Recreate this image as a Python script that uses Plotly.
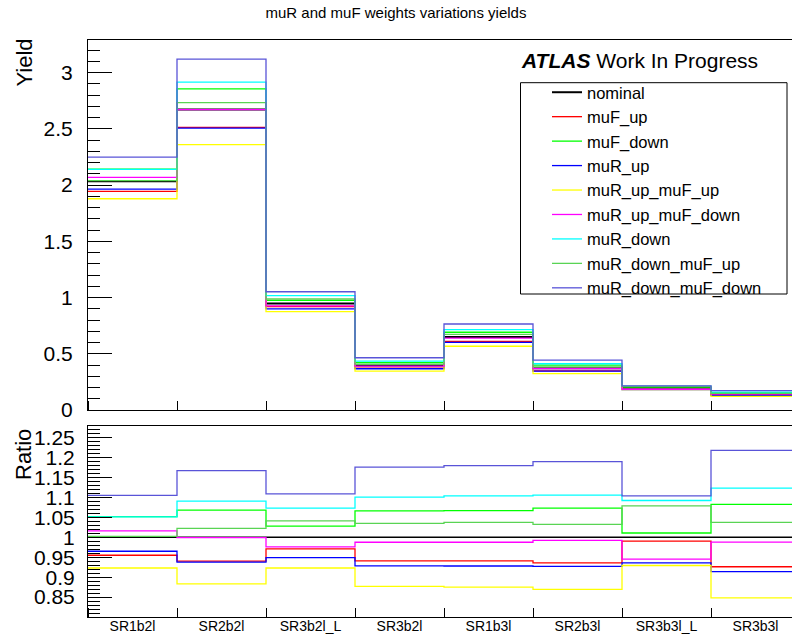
import plotly.graph_objects as go

# ---------------- data ----------------
categories = ["SR1b2l", "SR2b2l", "SR3b2l_L", "SR3b2l", "SR1b3l", "SR2b3l", "SR3b3l_L", "SR3b3l"]

nominal           = [2.035, 2.673, 0.948, 0.395, 0.648, 0.372, 0.195, 0.142]
muF_up            = [1.9434, 2.5126, 0.9205, 0.3717, 0.6098, 0.3482, 0.1931, 0.1315]
muF_down          = [2.1408, 2.8548, 0.9745, 0.4211, 0.6914, 0.3992, 0.1971, 0.1537]
muR_up            = [1.9638, 2.5059, 0.8997, 0.3666, 0.6013, 0.3448, 0.1825, 0.1298]
muR_up_muF_up     = [1.8783, 2.3603, 0.8750, 0.3464, 0.5670, 0.3233, 0.1812, 0.1204]
muR_up_muF_down   = [2.0676, 2.6703, 0.9252, 0.3901, 0.6399, 0.3692, 0.1843, 0.1403]
muR_down          = [2.1388, 2.9162, 1.0172, 0.4349, 0.7154, 0.4114, 0.2130, 0.1595]
muR_down_muF_up   = [2.0401, 2.7331, 0.9869, 0.4088, 0.6723, 0.3841, 0.2104, 0.1473]
muR_down_muF_down = [2.2487, 3.1207, 1.0513, 0.4645, 0.7646, 0.4427, 0.2153, 0.1730]

series_names = ["nominal", "muF_up", "muF_down", "muR_up", "muR_up_muF_up",
                "muR_up_muF_down", "muR_down", "muR_down_muF_up", "muR_down_muF_down"]
series_values = [nominal, muF_up, muF_down, muR_up, muR_up_muF_up,
                 muR_up_muF_down, muR_down, muR_down_muF_up, muR_down_muF_down]

yield_tick_vals = [0, 0.5, 1, 1.5, 2, 2.5, 3]
yield_tick_text = ["0", "0.5", "1", "1.5", "2", "2.5", "3"]
ratio_tick_vals = [0.85, 0.9, 0.95, 1.0, 1.05, 1.1, 1.15, 1.2, 1.25]
ratio_tick_text = ["0.85", "0.9", "0.95", "1", "1.05", "1.1", "1.15", "1.2", "1.25"]

# ---------------- style ----------------
series_colors = ["#000000", "#ff0000", "#00ff00", "#0000ff", "#ffff00",
                 "#ff00ff", "#00ffff", "#59d454", "#5954d8"]
FONT = "Liberation Sans, Arial, Helvetica, sans-serif"

W, H = 792, 636
ML, MR, MT, MB = 88, 0, 40, 19
plot_w = W - ML - MR
plot_h = H - MT - MB


def px_to_paper_x(px):
    return (px - ML) / plot_w


def px_to_paper_y(py):
    return (H - MB - py) / plot_h


nbins = len(categories)
edges = list(range(nbins + 1))
centers = [i + 0.5 for i in range(nbins)]
x_range = [0, plot_w / 89.0]

fig = go.Figure()

for name, vals, color in zip(series_names, series_values, series_colors):
    w = 2 if name == "nominal" else 1.3
    fig.add_trace(go.Scatter(
        x=edges, y=vals + [vals[-1]], mode="lines", name=name,
        line=dict(shape="hv", color=color, width=w),
        xaxis="x", yaxis="y"))

for name, vals, color in zip(series_names, series_values, series_colors):
    w = 1.6 if name == "nominal" else 1.3
    ratio = [v / n for v, n in zip(vals, nominal)]
    fig.add_trace(go.Scatter(
        x=edges, y=ratio + [ratio[-1]], mode="lines", name=name,
        line=dict(shape="hv", color=color, width=w),
        xaxis="x2", yaxis="y2", showlegend=False))

top_dom = [px_to_paper_y(410), 1.0]
bot_dom = [0.0, px_to_paper_y(425.7)]

fig.update_layout(
    width=W, height=H,
    margin=dict(l=ML, r=MR, t=MT, b=MB, autoexpand=False),
    paper_bgcolor="white", plot_bgcolor="white",
    font=dict(family=FONT, color="black"),
    title=dict(text="muR and muF weights variations yields",
               x=0.5, xanchor="center", y=1 - 13 / H, yanchor="middle",
               yref="container", font=dict(size=15, family=FONT, color="black")),
    xaxis=dict(domain=[0, 1], anchor="y", range=x_range, showgrid=False, zeroline=False,
               automargin=False,
               showline=True, linecolor="black", linewidth=1, mirror=True,
               tickmode="array", tickvals=centers, ticktext=["" for _ in categories],
               ticks="", showticklabels=False,
               minor=dict(tickmode="array", tickvals=edges, ticks="inside",
                          ticklen=9, tickcolor="black", showgrid=False)),
    yaxis=dict(domain=top_dom, anchor="x", range=[0, 3.29], showgrid=False, zeroline=False,
               automargin=False,
               showline=True, linecolor="black", linewidth=1,
               tickmode="array", tickvals=yield_tick_vals, ticktext=yield_tick_text,
               ticks="inside", ticklen=24, tickcolor="black",
               tickfont=dict(size=21, family=FONT), ticklabelstandoff=10,
               minor=dict(dtick=0.1, tick0=0, ticks="inside", ticklen=12,
                          tickcolor="black", showgrid=False)),
    xaxis2=dict(domain=[0, 1], anchor="y2", range=x_range, showgrid=False, zeroline=False,
                automargin=False,
                showline=True, linecolor="black", linewidth=1, mirror=True,
                tickmode="array", tickvals=centers, ticktext=categories,
                ticks="", tickfont=dict(size=14, family=FONT), ticklabelstandoff=-4,
                minor=dict(tickmode="array", tickvals=edges, ticks="inside",
                           ticklen=9, tickcolor="black", showgrid=False)),
    yaxis2=dict(domain=bot_dom, anchor="x2", range=[0.8, 1.28], showgrid=False, zeroline=False,
                automargin=False,
                showline=True, linecolor="black", linewidth=1,
                tickmode="array", tickvals=ratio_tick_vals, ticktext=ratio_tick_text,
                ticks="inside", ticklen=24, tickcolor="black",
                tickfont=dict(size=21, family=FONT), ticklabelstandoff=8,
                minor=dict(dtick=0.01, tick0=0.8, ticks="inside", ticklen=12,
                           tickcolor="black", showgrid=False)),
    legend=dict(x=px_to_paper_x(547), xanchor="left", y=px_to_paper_y(75), yanchor="top",
                bgcolor="rgba(0,0,0,0)", borderwidth=0,
                font=dict(size=16.5, family=FONT, color="black"),
                tracegroupgap=0),
    showlegend=True,
)

# legend frame
fig.add_shape(type="rect", xref="paper", yref="paper",
              x0=px_to_paper_x(520.5), x1=px_to_paper_x(787),
              y0=px_to_paper_y(294), y1=px_to_paper_y(82.7),
              line=dict(color="black", width=1), fillcolor="rgba(0,0,0,0)", layer="below")

# ATLAS label
fig.add_annotation(text="<b><i>ATLAS</i></b> Work In Progress", xref="paper", yref="paper",
                   x=px_to_paper_x(519), y=px_to_paper_y(60), xanchor="left", yanchor="middle",
                   showarrow=False, font=dict(size=21, family=FONT, color="black"))

# axis titles
fig.add_annotation(text="Yield", xref="paper", yref="paper", textangle=-90,
                   x=px_to_paper_x(9), y=px_to_paper_y(37), xanchor="left", yanchor="top",
                   showarrow=False, font=dict(size=22, family=FONT, color="black"))
fig.add_annotation(text="Ratio", xref="paper", yref="paper", textangle=-90,
                   x=px_to_paper_x(9), y=px_to_paper_y(427), xanchor="left", yanchor="top",
                   showarrow=False, font=dict(size=22, family=FONT, color="black"))

fig.write_html("out.html",
               config={"displayModeBar": False},
               post_script="document.body.style.margin='0';document.body.style.overflow='hidden';")
